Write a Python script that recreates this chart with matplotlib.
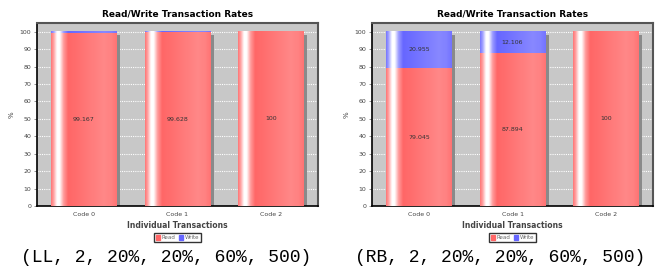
import numpy as np
import matplotlib
matplotlib.use("Agg")
import matplotlib.pyplot as plt
from matplotlib.patches import Rectangle, Patch

# data
categories = ['Code 0', 'Code 1', 'Code 2']
ll_read = [99.167, 99.628, 100]
ll_write = [0.833, 0.372, 0]
rb_read = [79.045, 87.894, 100]
rb_write = [20.955, 12.106, 0]
captions = ['(LL, 2, 20%, 20%, 60%, 500)', '(RB, 2, 20%, 20%, 60%, 500)']

read_col = np.array([1.0, 0.4, 0.4])
write_col = np.array([0.4, 0.4, 1.0])


def gradient(base):
    # horizontal sheen like the jfreechart bar painter
    t = np.linspace(0, 1, 200)
    w = np.interp(t, [0, 0.04, 0.09, 0.13, 0.19, 0.26, 0.80, 0.92, 1.0],
                  [0.1, 0.4, 1.0, 1.0, 0.35, 0.0, 0.22, 0.18, 0.08])
    c = base[None, :] * (1 - w[:, None]) + w[:, None]
    return c[None, :, :]


def draw_bar(ax, x, y0, y1, base, width=0.7):
    x0 = x - width / 2
    ax.imshow(gradient(base), extent=(x0, x0 + width, y0, y1),
              aspect='auto', zorder=3, interpolation='bilinear')


def panel(ax, read, write, caption, cx):
    ax.set_facecolor('#c8c8c8')
    xs = np.arange(len(categories))
    for i in xs:
        tot = read[i] + write[i]
        ax.add_patch(Rectangle((i - 0.35 + 0.035, 0), 0.7, tot - 1.8,
                               color='#8a8a8a', zorder=2, lw=0))
        draw_bar(ax, i, 0, read[i], read_col)
        if write[i] > 0:
            draw_bar(ax, i, read[i], tot, write_col)
        ax.text(i, read[i] / 2, '%g' % read[i], ha='center', va='center',
                fontsize=4.5, color='#333333', zorder=5)
        if write[i] > 5:
            ax.text(i, read[i] + write[i] / 2, '%g' % write[i], ha='center',
                    va='center', fontsize=4.5, color='#333333', zorder=5)
    ax.set_xlim(-0.5, 2.5)
    ax.set_ylim(0, 105)
    ax.set_yticks(range(0, 101, 10))
    ax.set_xticks(xs)
    ax.set_xticklabels(categories)
    ax.grid(axis='y', color='white', linestyle=(0, (1, 1)), linewidth=0.8, zorder=1)
    ax.set_axisbelow(True)
    ax.tick_params(labelsize=4.5, labelcolor='#444444', length=2, width=0.5,
                   color='#666666', pad=2)
    ax.tick_params(axis='x', length=0, pad=4)
    for s in ['top', 'right']:
        ax.spines[s].set_color('#555555')
        ax.spines[s].set_linewidth(1.5)
    ax.spines['left'].set_linewidth(1.2)
    ax.spines['bottom'].set_linewidth(1.2)
    ax.set_title('Read/Write Transaction Rates', fontsize=6.5, fontweight='bold', pad=5)
    ax.set_xlabel('Individual Transactions', fontsize=5.5, fontweight='bold',
                  color='#444444', labelpad=3)
    ax.set_ylabel('%', fontsize=5, color='#444444', labelpad=4)
    handles = [Patch(color='#ff6666', label='Read'), Patch(color='#6666ff', label='Write')]
    leg = ax.legend(handles=handles, loc='upper center', bbox_to_anchor=(0.5, -0.135),
                    ncol=2, fontsize=4, frameon=True, fancybox=False,
                    handlelength=0.8, handleheight=0.8, handletextpad=0.3,
                    columnspacing=0.5, borderpad=0.35, labelcolor='#666666')
    leg.get_frame().set_edgecolor('black')
    leg.get_frame().set_linewidth(1.0)
    fig.text(cx, 1 - 258 / 273, caption, ha='center', va='center',
             family='Liberation Mono', fontsize=13)


fig = plt.figure(figsize=(6.57, 2.73), dpi=100)
ax1 = fig.add_axes([37 / 657, 1 - 206 / 273, 281 / 657, 183 / 273])
ax2 = fig.add_axes([372 / 657, 1 - 206 / 273, 281 / 657, 183 / 273])
panel(ax1, ll_read, ll_write, captions[0], 166 / 657)
panel(ax2, rb_read, rb_write, captions[1], 500 / 657)

fig.savefig('out.png', dpi=100)
